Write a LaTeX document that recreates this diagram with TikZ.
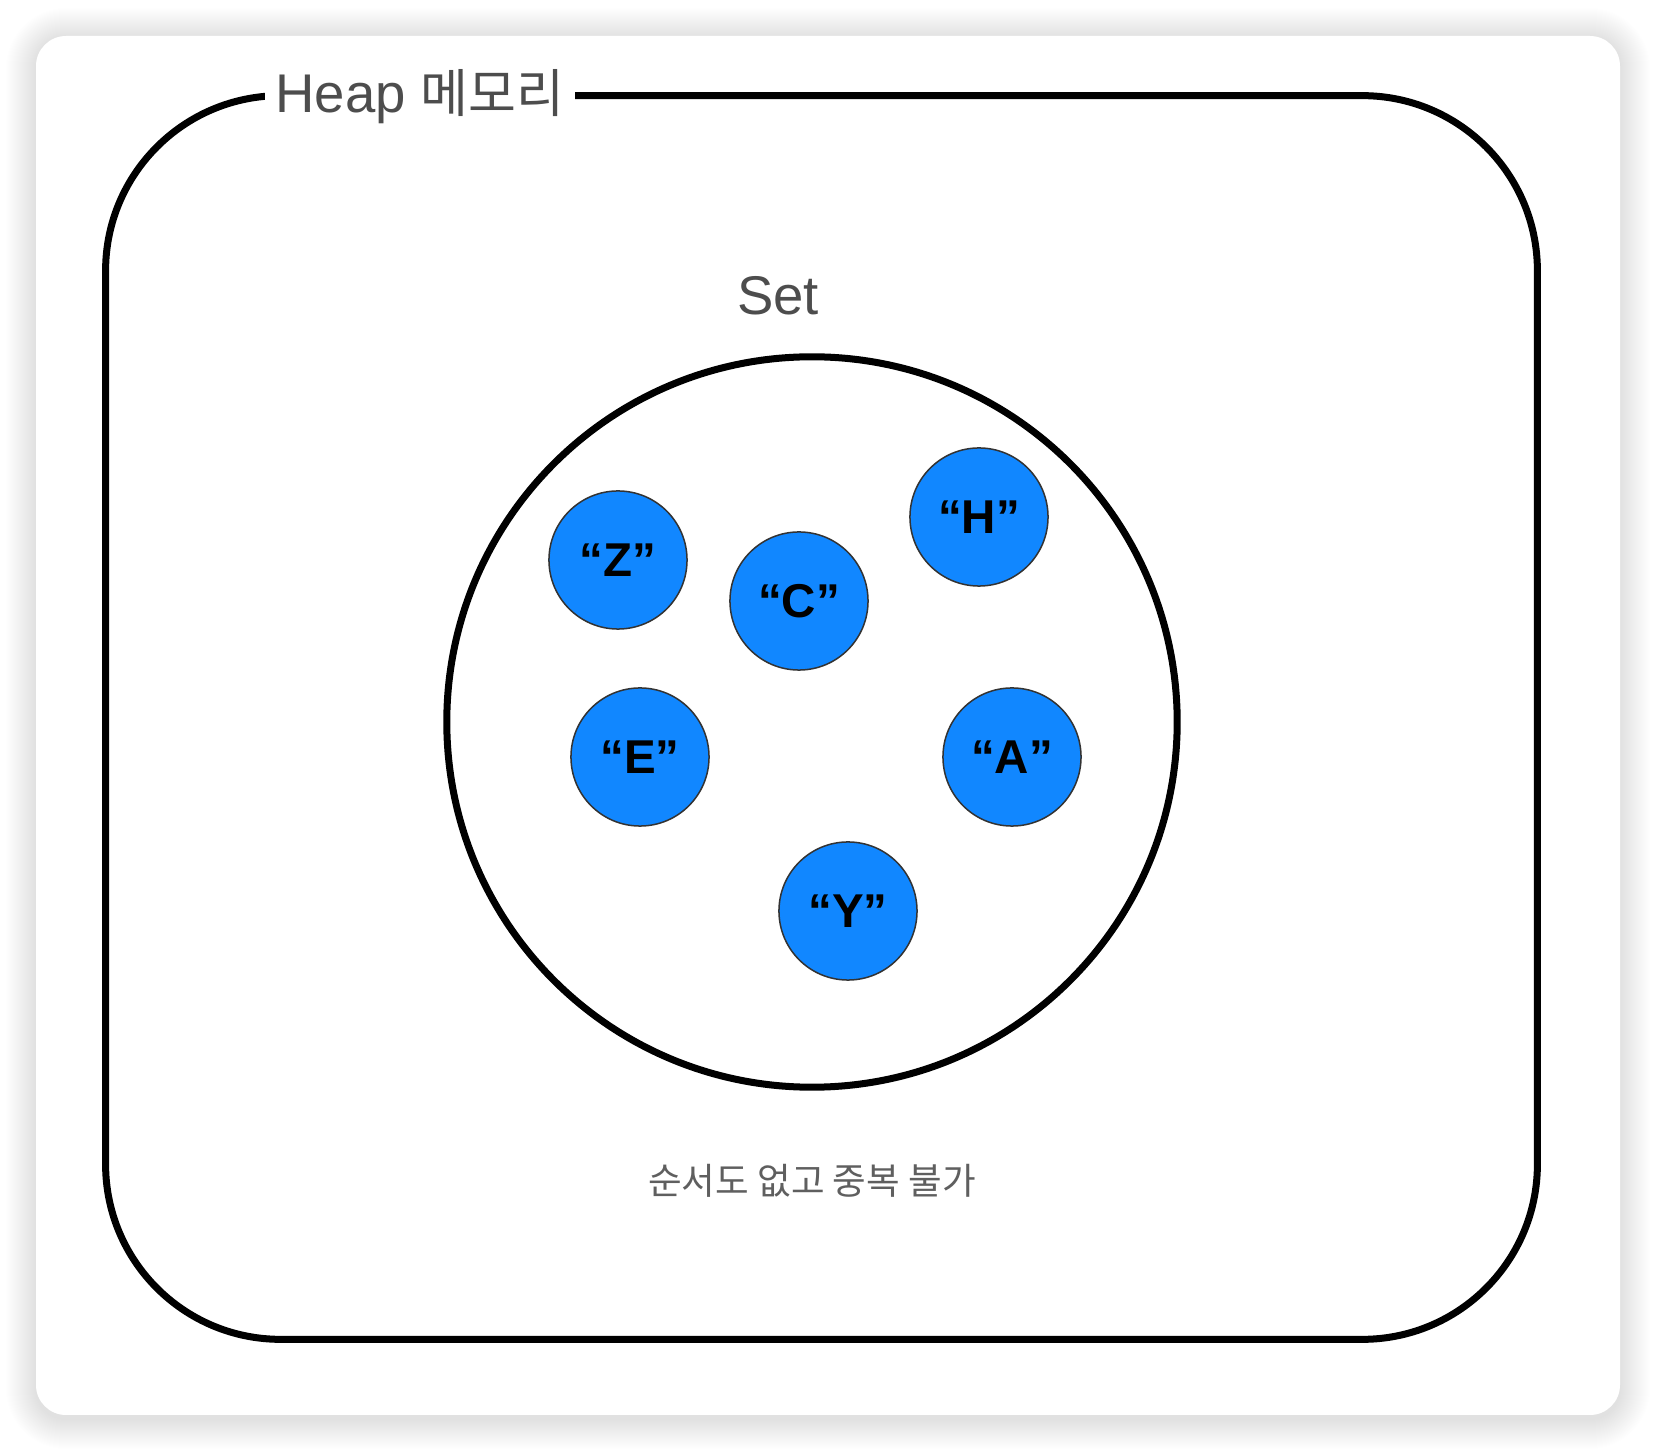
\documentclass[tikz,border=0pt]{standalone}
\usepackage{fontspec}
\setmainfont{Liberation Sans}
\newfontfamily\kofont{Noto Sans CJK KR}
\usetikzlibrary{positioning}
\definecolor{elemblue}{HTML}{1187FF}
\definecolor{labelgray}{HTML}{4D4D4D}

\begin{document}
\begin{tikzpicture}[
x=0.01cm, y=-0.01cm,
heapbox/.style={rectangle, draw, line width=0.07cm, rounded corners=1.75cm, minimum width=14.31cm, minimum height=12.43cm},
heaplabel/.style={fill=white, inner xsep=0.1cm, inner ysep=0.05cm, text=labelgray, font=\fontsize{15.5}{18}\selectfont},
setcircle/.style={circle, draw, line width=0.07cm, minimum size=7.3cm},
elem/.style={circle, draw=black!80, line width=0.015cm, fill=elemblue, minimum size=1.38cm, inner sep=0pt, font=\fontsize{13.5}{16}\selectfont\bfseries},
note/.style={text=labelgray!90, inner sep=0pt, font=\kofont\fontsize{10.4}{13}\selectfont}
]

\useasboundingbox (0,0) rectangle (1656,1452);

\foreach \i in {1,...,30}
  \fill[black, opacity=0.005, rounded corners={(0.3+\i*0.01)*1cm}] ({36-\i},{38-\i}) rectangle ({1620+\i},{1419+\i});
\fill[white, rounded corners=0.3cm] (36,36) rectangle (1620,1415);

\node[heapbox] (heap_box) at (821.5,717.5) {};
\node[heaplabel, anchor=base] (heap_label) at (420,113) {Heap {\kofont\fontsize{14.8}{18}\selectfont 메모리}};

\node[setcircle] (set_circle) at (812,722) {};
\node[heaplabel, fill=none, anchor=base] (set_label) at (778,315) {Set};

\node[elem] (elem_z) at (618,560) {“Z”};
\node[elem] (elem_c) at (799,601) {“C”};
\node[elem] (elem_h) at (979,517) {“H”};
\node[elem] (elem_e) at (640,757) {“E”};
\node[elem] (elem_a) at (1012,757) {“A”};
\node[elem] (elem_y) at (848,911) {“Y”};

\node[note] (set_note) at (812,1181) {순서도 없고 중복 불가};

\end{tikzpicture}
\end{document}
